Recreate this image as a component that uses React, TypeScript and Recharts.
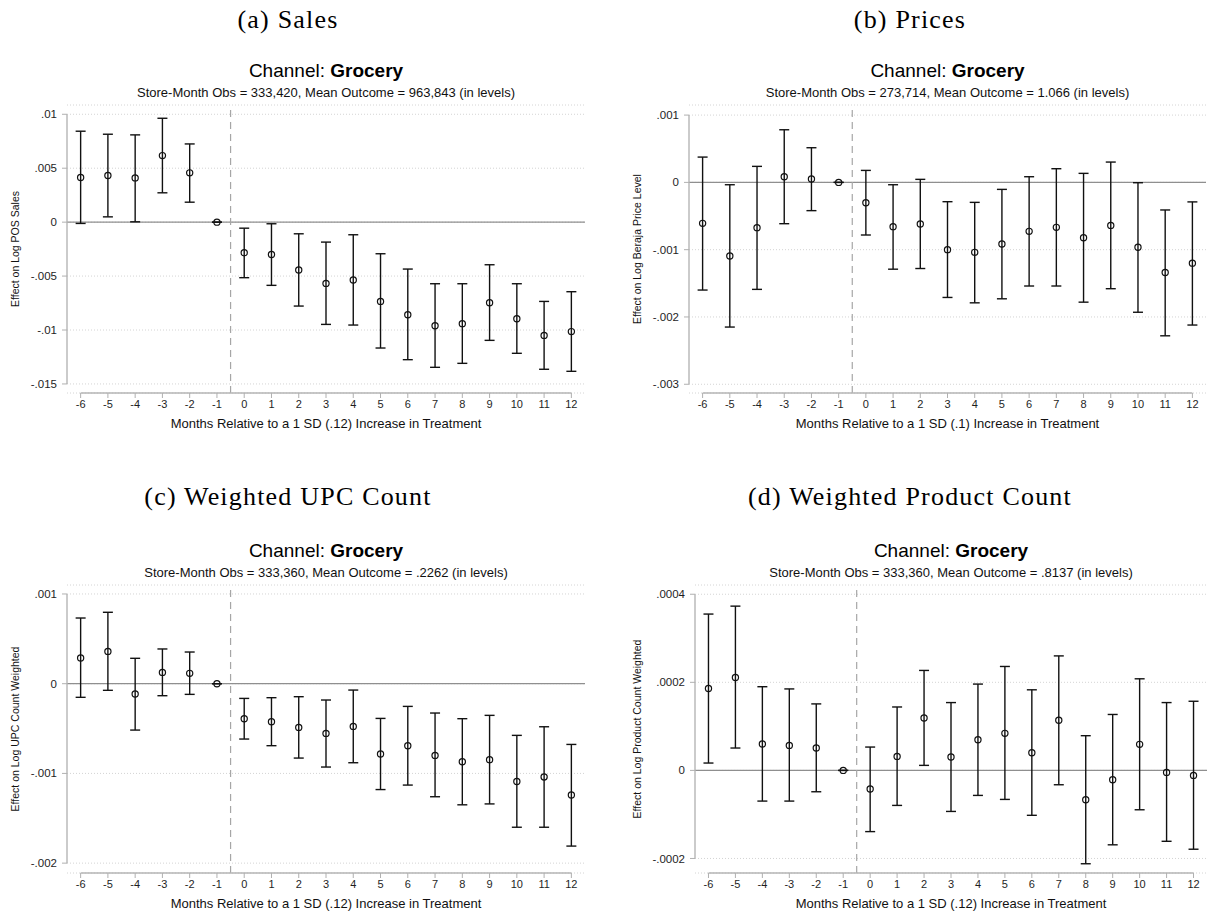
import React from 'react';
import {
  ComposedChart,
  Scatter,
  ErrorBar,
  XAxis,
  YAxis,
  CartesianGrid,
  ReferenceLine,
} from 'recharts';

// ---------- data ----------
const months = [-6, -5, -4, -3, -2, -1, 0, 1, 2, 3, 4, 5, 6, 7, 8, 9, 10, 11, 12];

const salesEst = [0.00414, 0.00432, 0.0041, 0.00617, 0.00457, 0, -0.00284, -0.003, -0.00444, -0.00568, -0.00537, -0.00735, -0.00858, -0.0096, -0.00941, -0.00747, -0.00895, -0.0105, -0.01015];
const salesLo = [-0.00012, 0.00049, 0.00003, 0.00272, 0.00185, 0, -0.00515, -0.00586, -0.00778, -0.00948, -0.00954, -0.01167, -0.01275, -0.01346, -0.01309, -0.01096, -0.01216, -0.01364, -0.01383];
const salesHi = [0.00843, 0.00815, 0.00809, 0.00963, 0.00725, 0, -0.00056, -0.00015, -0.00108, -0.00185, -0.00117, -0.00293, -0.00435, -0.00571, -0.00571, -0.00395, -0.00571, -0.00735, -0.00645];

const priceEst = [-0.000609, -0.001094, -0.000673, 0.000084, 0.00005, 0, -0.000302, -0.000658, -0.000619, -0.001, -0.00104, -0.000916, -0.000728, -0.000668, -0.000822, -0.000639, -0.000965, -0.00134, -0.0012];
const priceLo = [-0.0016, -0.00215, -0.00159, -0.000614, -0.00042, 0, -0.000782, -0.00129, -0.00128, -0.00171, -0.00179, -0.00173, -0.00154, -0.00154, -0.00178, -0.00158, -0.00193, -0.00228, -0.00212];
const priceHi = [0.000376, -0.000035, 0.000238, 0.000782, 0.000515, 0, 0.000178, -0.000035, 0.000045, -0.000287, -0.000297, -0.000104, 0.000084, 0.000203, 0.000134, 0.000302, -0.000005, -0.00041, -0.00029];

const upcEst = [0.000286, 0.00036, -0.000115, 0.000126, 0.000115, 0, -0.00039, -0.000424, -0.000487, -0.000554, -0.000476, -0.000784, -0.000691, -0.000799, -0.00087, -0.000848, -0.00109, -0.00104, -0.00124];
const upcLo = [-0.000152, -0.000074, -0.000517, -0.000134, -0.000119, 0, -0.000617, -0.000691, -0.000829, -0.000929, -0.000881, -0.00118, -0.00113, -0.00126, -0.00135, -0.00134, -0.0016, -0.0016, -0.00181];
const upcHi = [0.000732, 0.000796, 0.000283, 0.000387, 0.000353, 0, -0.000164, -0.000156, -0.000145, -0.000182, -0.000071, -0.000387, -0.000253, -0.000327, -0.00039, -0.000353, -0.000576, -0.00048, -0.000677];

const prodEst = [0.000186, 0.000211, 0.0000598, 0.0000568, 0.0000508, 0, -0.0000424, 0.0000318, 0.000119, 0.0000303, 0.0000697, 0.0000841, 0.0000402, 0.000114, -0.0000667, -0.0000212, 0.0000591, -0.0000045, -0.0000114];
const prodLo = [0.0000167, 0.0000508, -0.0000697, -0.0000697, -0.0000485, 0, -0.000139, -0.0000795, 0.0000114, -0.0000932, -0.0000568, -0.0000659, -0.000102, -0.0000326, -0.000212, -0.000169, -0.0000894, -0.000161, -0.000179];
const prodHi = [0.000355, 0.000373, 0.00019, 0.000185, 0.000151, 0, 0.000053, 0.000144, 0.000227, 0.000154, 0.000196, 0.000236, 0.000183, 0.00026, 0.0000788, 0.000127, 0.000208, 0.000154, 0.000157];

const salesTicks = [0.01, 0.005, 0, -0.005, -0.01, -0.015];
const salesTickLabels = ['.01', '.005', '0', '-.005', '-.01', '-.015'];
const priceTicks = [0.001, 0, -0.001, -0.002, -0.003];
const priceTickLabels = ['.001', '0', '-.001', '-.002', '-.003'];
const upcTicks = [0.001, 0, -0.001, -0.002];
const upcTickLabels = ['.001', '0', '-.001', '-.002'];
const prodTicks = [0.0004, 0.0002, 0, -0.0002];
const prodTickLabels = ['.0004', '.0002', '0', '-.0002'];

const captions = ['(a) Sales', '(b) Prices', '(c) Weighted UPC Count', '(d) Weighted Product Count'];
const yLabels = [
  'Effect on Log POS Sales',
  'Effect on Log Beraja Price Level',
  'Effect on Log UPC Count Weighted',
  'Effect on Log Product Count Weighted',
];
const subtitles = [
  'Store-Month Obs = 333,420, Mean Outcome = 963,843 (in levels)',
  'Store-Month Obs = 273,714, Mean Outcome = 1.066 (in levels)',
  'Store-Month Obs = 333,360, Mean Outcome = .2262 (in levels)',
  'Store-Month Obs = 333,360, Mean Outcome = .8137 (in levels)',
];
const xTitles = [
  'Months Relative to a 1 SD (.12) Increase in Treatment',
  'Months Relative to a 1 SD (.1) Increase in Treatment',
  'Months Relative to a 1 SD (.12) Increase in Treatment',
  'Months Relative to a 1 SD (.12) Increase in Treatment',
];

// ---------- layout ----------
const SANS = '"Liberation Sans", Arial, Helvetica, sans-serif';
const SERIF = '"Liberation Serif", "Times New Roman", serif';
const X_DOMAIN: [number, number] = [-6.5, 12.5];

type Panel = {
  est: number[];
  lo: number[];
  hi: number[];
  ticks: number[];
  tickLabels: string[];
  yDomain: [number, number];
  plotLeft: number;
  plotTop: number;
  plotRight: number;
  plotBottom: number;
  captionX: number;
  captionY: number;
  yLabelOffset: number;
};

const panels: Panel[] = [
  {
    est: salesEst, lo: salesLo, hi: salesHi,
    ticks: salesTicks, tickLabels: salesTickLabels,
    yDomain: [-0.01584, 0.01086],
    plotLeft: 67, plotTop: 105, plotRight: 585, plotBottom: 393,
    captionX: 288, captionY: 28, yLabelOffset: 52,
  },
  {
    est: priceEst, lo: priceLo, hi: priceHi,
    ticks: priceTicks, tickLabels: priceTickLabels,
    yDomain: [-0.00313, 0.00115],
    plotLeft: 689, plotTop: 105, plotRight: 1206, plotBottom: 393,
    captionX: 910, captionY: 28, yLabelOffset: 52,
  },
  {
    est: upcEst, lo: upcLo, hi: upcHi,
    ticks: upcTicks, tickLabels: upcTickLabels,
    yDomain: [-0.00211, 0.0011],
    plotLeft: 67, plotTop: 585, plotRight: 585, plotBottom: 873,
    captionX: 288, captionY: 505, yLabelOffset: 52,
  },
  {
    est: prodEst, lo: prodLo, hi: prodHi,
    ticks: prodTicks, tickLabels: prodTickLabels,
    yDomain: [-0.000233, 0.000421],
    plotLeft: 695, plotTop: 585, plotRight: 1207, plotBottom: 873,
    captionX: 910, captionY: 505, yLabelOffset: 58,
  },
];

const Y_AXIS_W = 67;
const M_TOP = 10;
const M_RIGHT = 10;
const X_AXIS_H = 30;

const Dot = (p: any) => (
  <circle cx={p.cx} cy={p.cy} r={3.1} fill="none" stroke="#111" strokeWidth={1.2} />
);

function PanelChart({ panel }: { panel: Panel }) {
  const rows = months.map((m, i) => ({
    m,
    y: panel.est[i],
    err: [panel.est[i] - panel.lo[i], panel.hi[i] - panel.est[i]],
  }));
  const plotW = panel.plotRight - panel.plotLeft;
  const plotH = panel.plotBottom - panel.plotTop;
  const width = plotW + Y_AXIS_W + M_RIGHT;
  const height = plotH + M_TOP + X_AXIS_H;
  const tMin = Math.min(...panel.ticks);
  const tMax = Math.max(...panel.ticks);
  const fmt = (v: number) => {
    const idx = panel.ticks.findIndex((t) => Math.abs(t - v) < 1e-12);
    return idx >= 0 ? panel.tickLabels[idx] : String(v);
  };
  return (
    <div
      style={{
        position: 'absolute',
        left: panel.plotLeft - Y_AXIS_W,
        top: panel.plotTop - M_TOP,
        width,
        height,
      }}
    >
      <ComposedChart
        width={width}
        height={height}
        data={rows}
        margin={{ top: M_TOP, right: M_RIGHT, bottom: 0, left: 0 }}
      >
        <CartesianGrid
          horizontal
          vertical={false}
          stroke="#d4d4d4"
          strokeDasharray="1 2"
        />
        <XAxis
          dataKey="m"
          type="number"
          domain={X_DOMAIN}
          ticks={months}
          interval={0}
          allowDataOverflow
          axisLine={false}
          tickLine={{ stroke: '#b0b0b0' }}
          tickSize={5}
          tickMargin={2}
          height={X_AXIS_H}
          tick={{ fill: '#1e1e1e', fontSize: 11, fontFamily: SANS }}
        />
        <YAxis
          type="number"
          domain={panel.yDomain}
          ticks={panel.ticks}
          interval={0}
          allowDataOverflow
          axisLine={false}
          tickLine={{ stroke: '#b0b0b0' }}
          tickSize={5}
          tickMargin={5}
          width={Y_AXIS_W}
          tickFormatter={fmt}
          tick={{ fill: '#1e1e1e', fontSize: 11.5, fontFamily: SANS }}
        />
        <ReferenceLine y={0} stroke="#8f8f8f" strokeWidth={1.2} ifOverflow="visible" />
        <ReferenceLine
          x={-0.5}
          stroke="#a6a6a6"
          strokeWidth={1.2}
          strokeDasharray="7 5"
          ifOverflow="visible"
        />
        <ReferenceLine
          segment={[
            { x: X_DOMAIN[0], y: tMin },
            { x: X_DOMAIN[0], y: tMax },
          ]}
          stroke="#b5b5b5"
          strokeWidth={1.4}
          ifOverflow="visible"
        />
        <ReferenceLine
          segment={[
            { x: months[0], y: panel.yDomain[0] },
            { x: months[months.length - 1], y: panel.yDomain[0] },
          ]}
          stroke="#b5b5b5"
          strokeWidth={1.4}
          ifOverflow="visible"
        />
        <Scatter dataKey="y" shape={Dot} isAnimationActive={false}>
          <ErrorBar
            dataKey="err"
            direction="y"
            width={5}
            stroke="#111"
            strokeWidth={1.4}
            isAnimationActive={false}
          />
        </Scatter>
      </ComposedChart>
    </div>
  );
}

export default function App() {
  return (
    <div
      style={{
        position: 'absolute',
        left: 0,
        top: 0,
        width: 1213,
        height: 918,
        background: '#ffffff',
        overflow: 'hidden',
      }}
    >
      {panels.map((p, i) => (
        <PanelChart key={i} panel={p} />
      ))}
      <svg
        width={1213}
        height={918}
        style={{ position: 'absolute', left: 0, top: 0, pointerEvents: 'none' }}
      >
        {panels.map((p, i) => {
          const cx = (p.plotLeft + p.plotRight) / 2;
          const cy = (p.plotTop + p.plotBottom) / 2;
          const lx = p.plotLeft - p.yLabelOffset;
          return (
            <g key={i}>
              <text
                x={p.captionX}
                y={p.captionY}
                textAnchor="middle"
                fontFamily={SERIF}
                fontSize={26}
                letterSpacing={1.2}
                fill="#000"
              >
                {captions[i]}
              </text>
              <text
                x={cx}
                y={p.plotTop - 28}
                textAnchor="middle"
                fontFamily={SANS}
                fontSize={19}
                fill="#000"
              >
                {'Channel: '}
                <tspan fontWeight="bold">Grocery</tspan>
              </text>
              <text
                x={cx}
                y={p.plotTop - 8}
                textAnchor="middle"
                fontFamily={SANS}
                fontSize={13}
                fill="#111"
              >
                {subtitles[i]}
              </text>
              <text
                x={cx}
                y={p.plotBottom + 35}
                textAnchor="middle"
                fontFamily={SANS}
                fontSize={13}
                fill="#111"
              >
                {xTitles[i]}
              </text>
              <text
                x={lx}
                y={cy}
                textAnchor="middle"
                dominantBaseline="central"
                transform={`rotate(-90 ${lx} ${cy})`}
                fontFamily={SANS}
                fontSize={10.5}
                fill="#111"
              >
                {yLabels[i]}
              </text>
            </g>
          );
        })}
      </svg>
    </div>
  );
}
